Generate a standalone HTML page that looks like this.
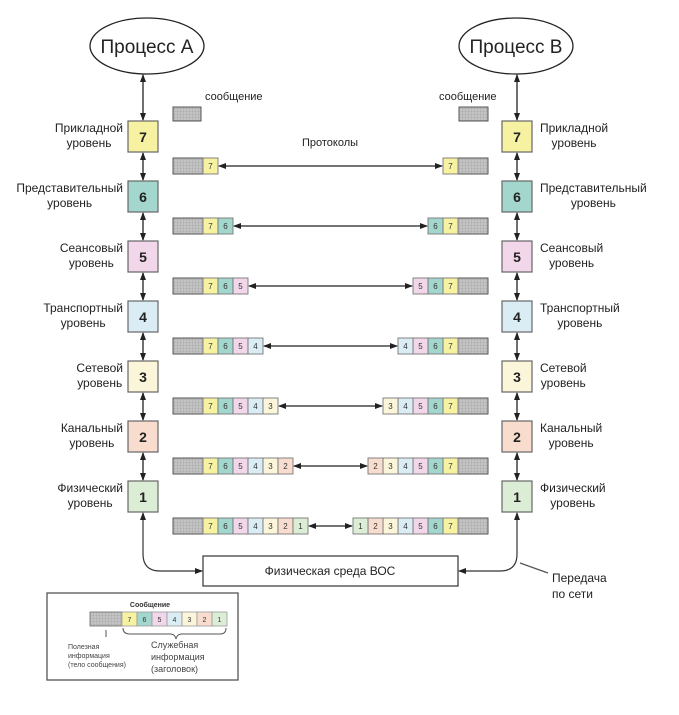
<!DOCTYPE html>
<html><head><meta charset="utf-8"><style>
body{margin:0;background:#fff;width:679px;height:715px;overflow:hidden;position:relative;font-family:"Liberation Sans","DejaVu Sans",sans-serif;}
.l{position:absolute;font-size:12px;line-height:15px;text-align:center;color:#222;white-space:nowrap}
.L{right:556px}
.R{left:540px}
svg{position:absolute;left:0;top:0}
</style></head><body>
<svg width="679" height="715" viewBox="0 0 679 715">
<defs>
<pattern id="g" width="3" height="3" patternUnits="userSpaceOnUse"><rect width="3" height="3" fill="#c4c4c4"/><path d="M0 0H3M0 0V3" stroke="#999" stroke-width="0.6"/></pattern>
<marker id="a" markerWidth="8" markerHeight="8" refX="7" refY="4" orient="auto-start-reverse" markerUnits="userSpaceOnUse"><path d="M0,1 L8,4 L0,7z" fill="#222"/></marker>
</defs>
<g font-family="Liberation Sans, sans-serif">
<ellipse cx="147" cy="46" rx="57" ry="28" fill="#fff" stroke="#222" stroke-width="1.3"/>
<text x="147" y="53" font-size="19" text-anchor="middle" fill="#222">Процесс A</text>
<ellipse cx="516" cy="46" rx="57" ry="28" fill="#fff" stroke="#222" stroke-width="1.3"/>
<text x="516" y="53" font-size="19" text-anchor="middle" fill="#222">Процесс B</text>

<g stroke="#333" stroke-width="1.4" marker-start="url(#a)" marker-end="url(#a)">
<line x1="143" y1="75" x2="143" y2="120"/><line x1="517" y1="75" x2="517" y2="120"/>
<line x1="143" y1="153" x2="143" y2="180"/><line x1="517" y1="153" x2="517" y2="180"/>
<line x1="143" y1="213" x2="143" y2="240"/><line x1="517" y1="213" x2="517" y2="240"/>
<line x1="143" y1="273" x2="143" y2="300"/><line x1="517" y1="273" x2="517" y2="300"/>
<line x1="143" y1="333" x2="143" y2="360"/><line x1="517" y1="333" x2="517" y2="360"/>
<line x1="143" y1="393" x2="143" y2="420"/><line x1="517" y1="393" x2="517" y2="420"/>
<line x1="143" y1="453" x2="143" y2="480"/><line x1="517" y1="453" x2="517" y2="480"/>
</g>

<g stroke="#666" stroke-width="1.2" font-size="13" font-weight="bold" text-anchor="middle" fill="#222">
<rect x="128" y="121" width="30" height="31" fill="#f7f2a2"/><rect x="502" y="121" width="30" height="31" fill="#f7f2a2"/>
<rect x="128" y="181" width="30" height="31" fill="#a3d6cd"/><rect x="502" y="181" width="30" height="31" fill="#a3d6cd"/>
<rect x="128" y="241" width="30" height="31" fill="#f2d6ea"/><rect x="502" y="241" width="30" height="31" fill="#f2d6ea"/>
<rect x="128" y="301" width="30" height="31" fill="#daedf5"/><rect x="502" y="301" width="30" height="31" fill="#daedf5"/>
<rect x="128" y="361" width="30" height="31" fill="#fbf6da"/><rect x="502" y="361" width="30" height="31" fill="#fbf6da"/>
<rect x="128" y="421" width="30" height="31" fill="#f8ddcf"/><rect x="502" y="421" width="30" height="31" fill="#f8ddcf"/>
<rect x="128" y="481" width="30" height="31" fill="#dcedd6"/><rect x="502" y="481" width="30" height="31" fill="#dcedd6"/>
</g>
<g font-size="14" font-weight="bold" text-anchor="middle" fill="#222">
<text x="143" y="142">7</text><text x="517" y="142">7</text>
<text x="143" y="202">6</text><text x="517" y="202">6</text>
<text x="143" y="262">5</text><text x="517" y="262">5</text>
<text x="143" y="322">4</text><text x="517" y="322">4</text>
<text x="143" y="382">3</text><text x="517" y="382">3</text>
<text x="143" y="442">2</text><text x="517" y="442">2</text>
<text x="143" y="502">1</text><text x="517" y="502">1</text>
</g>

<text x="205" y="100" font-size="11" fill="#222">сообщение</text>
<text x="439" y="100" font-size="11" fill="#222">сообщение</text>
<text x="330" y="146" font-size="11" text-anchor="middle" fill="#222">Протоколы</text>

<g stroke="#555" stroke-width="1">
<rect x="173" y="107" width="28" height="14" fill="url(#g)"/>
<rect x="459" y="107" width="29" height="14" fill="url(#g)"/>
<!-- left grays -->
<rect x="173" y="158" width="30" height="16" fill="url(#g)"/>
<rect x="173" y="218" width="30" height="16" fill="url(#g)"/>
<rect x="173" y="278" width="30" height="16" fill="url(#g)"/>
<rect x="173" y="338" width="30" height="16" fill="url(#g)"/>
<rect x="173" y="398" width="30" height="16" fill="url(#g)"/>
<rect x="173" y="458" width="30" height="16" fill="url(#g)"/>
<rect x="173" y="518" width="30" height="16" fill="url(#g)"/>
<rect x="458" y="158" width="30" height="16" fill="url(#g)"/>
<rect x="458" y="218" width="30" height="16" fill="url(#g)"/>
<rect x="458" y="278" width="30" height="16" fill="url(#g)"/>
<rect x="458" y="338" width="30" height="16" fill="url(#g)"/>
<rect x="458" y="398" width="30" height="16" fill="url(#g)"/>
<rect x="458" y="458" width="30" height="16" fill="url(#g)"/>
<rect x="458" y="518" width="30" height="16" fill="url(#g)"/>
</g>
<g stroke="#777" stroke-width="0.9">
<!-- row0 -->
<rect x="203" y="158" width="15" height="16" fill="#f7f2a2"/>
<rect x="443" y="158" width="15" height="16" fill="#f7f2a2"/>
<!-- row1 -->
<rect x="203" y="218" width="15" height="16" fill="#f7f2a2"/><rect x="218" y="218" width="15" height="16" fill="#a3d6cd"/>
<rect x="443" y="218" width="15" height="16" fill="#f7f2a2"/><rect x="428" y="218" width="15" height="16" fill="#a3d6cd"/>
<!-- row2 -->
<rect x="203" y="278" width="15" height="16" fill="#f7f2a2"/><rect x="218" y="278" width="15" height="16" fill="#a3d6cd"/><rect x="233" y="278" width="15" height="16" fill="#f2d6ea"/>
<rect x="443" y="278" width="15" height="16" fill="#f7f2a2"/><rect x="428" y="278" width="15" height="16" fill="#a3d6cd"/><rect x="413" y="278" width="15" height="16" fill="#f2d6ea"/>
<!-- row3 -->
<rect x="203" y="338" width="15" height="16" fill="#f7f2a2"/><rect x="218" y="338" width="15" height="16" fill="#a3d6cd"/><rect x="233" y="338" width="15" height="16" fill="#f2d6ea"/><rect x="248" y="338" width="15" height="16" fill="#daedf5"/>
<rect x="443" y="338" width="15" height="16" fill="#f7f2a2"/><rect x="428" y="338" width="15" height="16" fill="#a3d6cd"/><rect x="413" y="338" width="15" height="16" fill="#f2d6ea"/><rect x="398" y="338" width="15" height="16" fill="#daedf5"/>
<!-- row4 -->
<rect x="203" y="398" width="15" height="16" fill="#f7f2a2"/><rect x="218" y="398" width="15" height="16" fill="#a3d6cd"/><rect x="233" y="398" width="15" height="16" fill="#f2d6ea"/><rect x="248" y="398" width="15" height="16" fill="#daedf5"/><rect x="263" y="398" width="15" height="16" fill="#fbf6da"/>
<rect x="443" y="398" width="15" height="16" fill="#f7f2a2"/><rect x="428" y="398" width="15" height="16" fill="#a3d6cd"/><rect x="413" y="398" width="15" height="16" fill="#f2d6ea"/><rect x="398" y="398" width="15" height="16" fill="#daedf5"/><rect x="383" y="398" width="15" height="16" fill="#fbf6da"/>
<!-- row5 -->
<rect x="203" y="458" width="15" height="16" fill="#f7f2a2"/><rect x="218" y="458" width="15" height="16" fill="#a3d6cd"/><rect x="233" y="458" width="15" height="16" fill="#f2d6ea"/><rect x="248" y="458" width="15" height="16" fill="#daedf5"/><rect x="263" y="458" width="15" height="16" fill="#fbf6da"/><rect x="278" y="458" width="15" height="16" fill="#f8ddcf"/>
<rect x="443" y="458" width="15" height="16" fill="#f7f2a2"/><rect x="428" y="458" width="15" height="16" fill="#a3d6cd"/><rect x="413" y="458" width="15" height="16" fill="#f2d6ea"/><rect x="398" y="458" width="15" height="16" fill="#daedf5"/><rect x="383" y="458" width="15" height="16" fill="#fbf6da"/><rect x="368" y="458" width="15" height="16" fill="#f8ddcf"/>
<!-- row6 -->
<rect x="203" y="518" width="15" height="16" fill="#f7f2a2"/><rect x="218" y="518" width="15" height="16" fill="#a3d6cd"/><rect x="233" y="518" width="15" height="16" fill="#f2d6ea"/><rect x="248" y="518" width="15" height="16" fill="#daedf5"/><rect x="263" y="518" width="15" height="16" fill="#fbf6da"/><rect x="278" y="518" width="15" height="16" fill="#f8ddcf"/><rect x="293" y="518" width="15" height="16" fill="#dcedd6"/>
<rect x="443" y="518" width="15" height="16" fill="#f7f2a2"/><rect x="428" y="518" width="15" height="16" fill="#a3d6cd"/><rect x="413" y="518" width="15" height="16" fill="#f2d6ea"/><rect x="398" y="518" width="15" height="16" fill="#daedf5"/><rect x="383" y="518" width="15" height="16" fill="#fbf6da"/><rect x="368" y="518" width="15" height="16" fill="#f8ddcf"/><rect x="353" y="518" width="15" height="16" fill="#dcedd6"/>
</g>
<g font-size="8" text-anchor="middle" fill="#333">
<text x="210.5" y="169">7</text><text x="450.5" y="169">7</text>
<text x="210.5" y="229">7</text><text x="225.5" y="229">6</text><text x="450.5" y="229">7</text><text x="435.5" y="229">6</text>
<text x="210.5" y="289">7</text><text x="225.5" y="289">6</text><text x="240.5" y="289">5</text><text x="450.5" y="289">7</text><text x="435.5" y="289">6</text><text x="420.5" y="289">5</text>
<text x="210.5" y="349">7</text><text x="225.5" y="349">6</text><text x="240.5" y="349">5</text><text x="255.5" y="349">4</text><text x="450.5" y="349">7</text><text x="435.5" y="349">6</text><text x="420.5" y="349">5</text><text x="405.5" y="349">4</text>
<text x="210.5" y="409">7</text><text x="225.5" y="409">6</text><text x="240.5" y="409">5</text><text x="255.5" y="409">4</text><text x="270.5" y="409">3</text><text x="450.5" y="409">7</text><text x="435.5" y="409">6</text><text x="420.5" y="409">5</text><text x="405.5" y="409">4</text><text x="390.5" y="409">3</text>
<text x="210.5" y="469">7</text><text x="225.5" y="469">6</text><text x="240.5" y="469">5</text><text x="255.5" y="469">4</text><text x="270.5" y="469">3</text><text x="285.5" y="469">2</text><text x="450.5" y="469">7</text><text x="435.5" y="469">6</text><text x="420.5" y="469">5</text><text x="405.5" y="469">4</text><text x="390.5" y="469">3</text><text x="375.5" y="469">2</text>
<text x="210.5" y="529">7</text><text x="225.5" y="529">6</text><text x="240.5" y="529">5</text><text x="255.5" y="529">4</text><text x="270.5" y="529">3</text><text x="285.5" y="529">2</text><text x="300.5" y="529">1</text><text x="450.5" y="529">7</text><text x="435.5" y="529">6</text><text x="420.5" y="529">5</text><text x="405.5" y="529">4</text><text x="390.5" y="529">3</text><text x="375.5" y="529">2</text><text x="360.5" y="529">1</text>
</g>
<g stroke="#222" stroke-width="1.2" marker-start="url(#a)" marker-end="url(#a)">
<line x1="219" y1="166" x2="442" y2="166"/>
<line x1="234" y1="226" x2="427" y2="226"/>
<line x1="249" y1="286" x2="412" y2="286"/>
<line x1="264" y1="346" x2="397" y2="346"/>
<line x1="279" y1="406" x2="382" y2="406"/>
<line x1="294" y1="466" x2="367" y2="466"/>
<line x1="309" y1="526" x2="352" y2="526"/>
</g>

<rect x="203" y="556" width="255" height="30" fill="#fff" stroke="#333" stroke-width="1.2"/>
<text x="330" y="575" font-size="12" text-anchor="middle" fill="#222">Физическая среда ВОС</text>
<g stroke="#333" stroke-width="1.2" fill="none">
<path d="M202,571 H160 Q143,571 143,554 V513" marker-start="url(#a)" marker-end="url(#a)"/>
<path d="M459,571 H500 Q517,571 517,554 V513" marker-start="url(#a)" marker-end="url(#a)"/>
<line x1="520" y1="563" x2="548" y2="573" stroke="#555"/>
</g>
<text x="552" y="582" font-size="12" fill="#222">Передача</text>
<text x="552" y="598" font-size="12" fill="#222">по сети</text>

<rect x="47" y="593" width="191" height="87" fill="#fff" stroke="#555" stroke-width="1.3"/>
<text x="150" y="607" font-size="7" text-anchor="middle" fill="#333" font-weight="bold">Сообщение</text>
<rect x="90" y="612" width="32" height="14" fill="url(#g)" stroke="#666" stroke-width="0.8"/>
<g stroke="#999" stroke-width="0.8">
<rect x="122" y="612" width="15" height="14" fill="#f7f2a2"/><rect x="137" y="612" width="15" height="14" fill="#a3d6cd"/><rect x="152" y="612" width="15" height="14" fill="#f2d6ea"/><rect x="167" y="612" width="15" height="14" fill="#daedf5"/><rect x="182" y="612" width="15" height="14" fill="#fbf6da"/><rect x="197" y="612" width="15" height="14" fill="#f8ddcf"/><rect x="212" y="612" width="15" height="14" fill="#dcedd6"/>
</g>
<g font-size="7" text-anchor="middle" fill="#333">
<text x="129.5" y="622">7</text><text x="144.5" y="622">6</text><text x="159.5" y="622">5</text><text x="174.5" y="622">4</text><text x="189.5" y="622">3</text><text x="204.5" y="622">2</text><text x="219.5" y="622">1</text>
</g>
<line x1="106" y1="630" x2="106" y2="637" stroke="#555"/>
<path d="M123,628 Q123,634 130,634 H170 Q175,634 176,639 Q177,634 182,634 H220 Q226,634 226,628" stroke="#555" fill="none"/>
<g font-size="7" fill="#444">
<text x="68" y="649">Полезная</text><text x="68" y="658">информация</text><text x="68" y="667">(тело сообщения)</text>
</g>
<g font-size="9" fill="#444">
<text x="151" y="648">Служебная</text><text x="151" y="660">информация</text><text x="151" y="672">(заголовок)</text>
</g>
</g>
</svg>
<div class="l L" style="top:121px">Прикладной<br>уровень</div>
<div class="l L" style="top:181px">Представительный<br>уровень</div>
<div class="l L" style="top:241px">Сеансовый<br>уровень</div>
<div class="l L" style="top:301px">Транспортный<br>уровень</div>
<div class="l L" style="top:361px">Сетевой<br>уровень</div>
<div class="l L" style="top:421px">Канальный<br>уровень</div>
<div class="l L" style="top:481px">Физический<br>уровень</div>
<div class="l R" style="top:121px">Прикладной<br>уровень</div>
<div class="l R" style="top:181px">Представительный<br>уровень</div>
<div class="l R" style="top:241px">Сеансовый<br>уровень</div>
<div class="l R" style="top:301px">Транспортный<br>уровень</div>
<div class="l R" style="top:361px">Сетевой<br>уровень</div>
<div class="l R" style="top:421px">Канальный<br>уровень</div>
<div class="l R" style="top:481px">Физический<br>уровень</div>
</body></html>
